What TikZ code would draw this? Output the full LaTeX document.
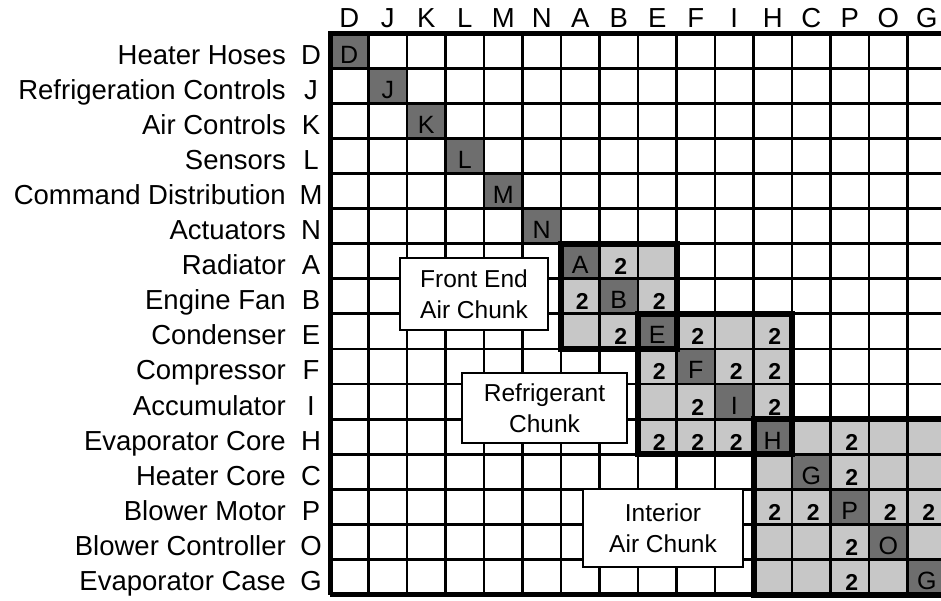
\documentclass[tikz,border=0pt]{standalone}
\usepackage{fontspec}
\setmainfont{Liberation Sans}
\begin{document}
\begin{tikzpicture}[x=1pt,y=-1pt,
  lbl/.style={font=\fontsize{27.5}{30}\selectfont, inner sep=0pt},
  celltxt/.style={font=\fontsize{25}{28}\selectfont, inner sep=0pt, anchor=base},
  two/.style={font=\fontsize{23}{24}\selectfont\bfseries, inner sep=0pt, anchor=base},
  gridline/.style={line width=2.8pt, black},
  border/.style={line width=5pt, black},
  chunk/.style={line width=6pt, black, line join=miter},
  darkcell/.style={fill=black!57},
  lightcell/.style={fill=black!22},
  callout/.style={draw=black, line width=2.6pt, fill=white, align=center,
    font=\fontsize{24.5}{31}\selectfont, inner sep=0pt}]
\useasboundingbox (0,0) rectangle (941,600);
\def\cw{38.5}\def\rh{35.1}\def\gx{330}\def\gy{33}
% light cells of the chunks
\fill[lightcell] ({\gx+6*\cw},{\gy+6*\rh}) rectangle ({\gx+9*\cw},{\gy+9*\rh});
\fill[lightcell] ({\gx+8*\cw},{\gy+8*\rh}) rectangle ({\gx+12*\cw},{\gy+12*\rh});
\fill[lightcell] ({\gx+11*\cw},{\gy+11*\rh}) rectangle ({\gx+16*\cw},{\gy+16*\rh});
% dark diagonal cells
\foreach \i in {0,...,15}
  \fill[darkcell] ({\gx+\i*\cw},{\gy+\i*\rh}) rectangle +(\cw,\rh);
% grid
\foreach \i in {0,...,16} {
  \draw[gridline] ({\gx+\i*\cw},\gy) -- ({\gx+\i*\cw},{\gy+16*\rh});
  \draw[gridline] (\gx,{\gy+\i*\rh}) -- ({\gx+16*\cw},{\gy+\i*\rh});
}
\draw[border] ({\gx},{\gy+16*\rh}) -- (\gx,\gy) -- ({\gx+16*\cw},\gy);
\draw[border] ({\gx},{\gy+16*\rh}) -- ({\gx+16*\cw},{\gy+16*\rh});
% chunk outlines
\draw[chunk] ({\gx+6*\cw},{\gy+6*\rh}) rectangle ({\gx+9*\cw},{\gy+9*\rh});
\draw[chunk] ({\gx+8*\cw},{\gy+8*\rh}) rectangle ({\gx+12*\cw},{\gy+12*\rh});
\draw[chunk] ({\gx+11*\cw},{\gy+11*\rh}) rectangle ({\gx+16*\cw},{\gy+16*\rh});
% column headers and row letters
\foreach \l [count=\i from 0] in {D,J,K,L,M,N,A,B,E,F,I,H,C,P,O,G} {
  \node[lbl, anchor=base] (col\i) at ({\gx+(\i+0.5)*\cw},27) {\l};
  \node[lbl, anchor=base] (rowl\i) at (311,{\gy+\i*\rh+31}) {\l};
}
% row names
\foreach \n [count=\i from 0] in {Heater Hoses, Refrigeration Controls, Air Controls,
  Sensors, Command Distribution, Actuators, Radiator, Engine Fan, Condenser,
  Compressor, Accumulator, Evaporator Core, Heater Core, Blower Motor,
  Blower Controller, Evaporator Case}
  \node[lbl, anchor=base east] (rown\i) at (286,{\gy+\i*\rh+31}) {\n};
% diagonal letters
\foreach \l [count=\i from 0] in {D,J,K,L,M,N,A,B,E,F,I,H,G,P,O,G}
  \node[celltxt] (diag\i) at ({\gx+(\i+0.5)*\cw},{\gy+\i*\rh+30}) {\l};
% the 2 entries
\foreach \r/\c in {6/7,7/6,7/8,8/7,
  8/9,8/11,9/8,9/10,9/11,10/9,10/11,11/8,11/9,11/10,
  11/13,12/13,13/11,13/12,13/14,13/15,14/13,15/13}
  \node[two] (m\r-\c) at ({\gx+(\c+0.55)*\cw},{\gy+\r*\rh+31}) {2};
% callouts
\node[callout, minimum width=148pt, minimum height=72pt] (fe) at (474,294) {Front End\\Air Chunk};
\node[callout, minimum width=165pt, minimum height=70pt] (rc) at (544.5,408) {Refrigerant\\Chunk};
\node[callout, minimum width=160pt, minimum height=78pt] (ia) at (663,528) {Interior\\Air Chunk};
\end{tikzpicture}
\end{document}
